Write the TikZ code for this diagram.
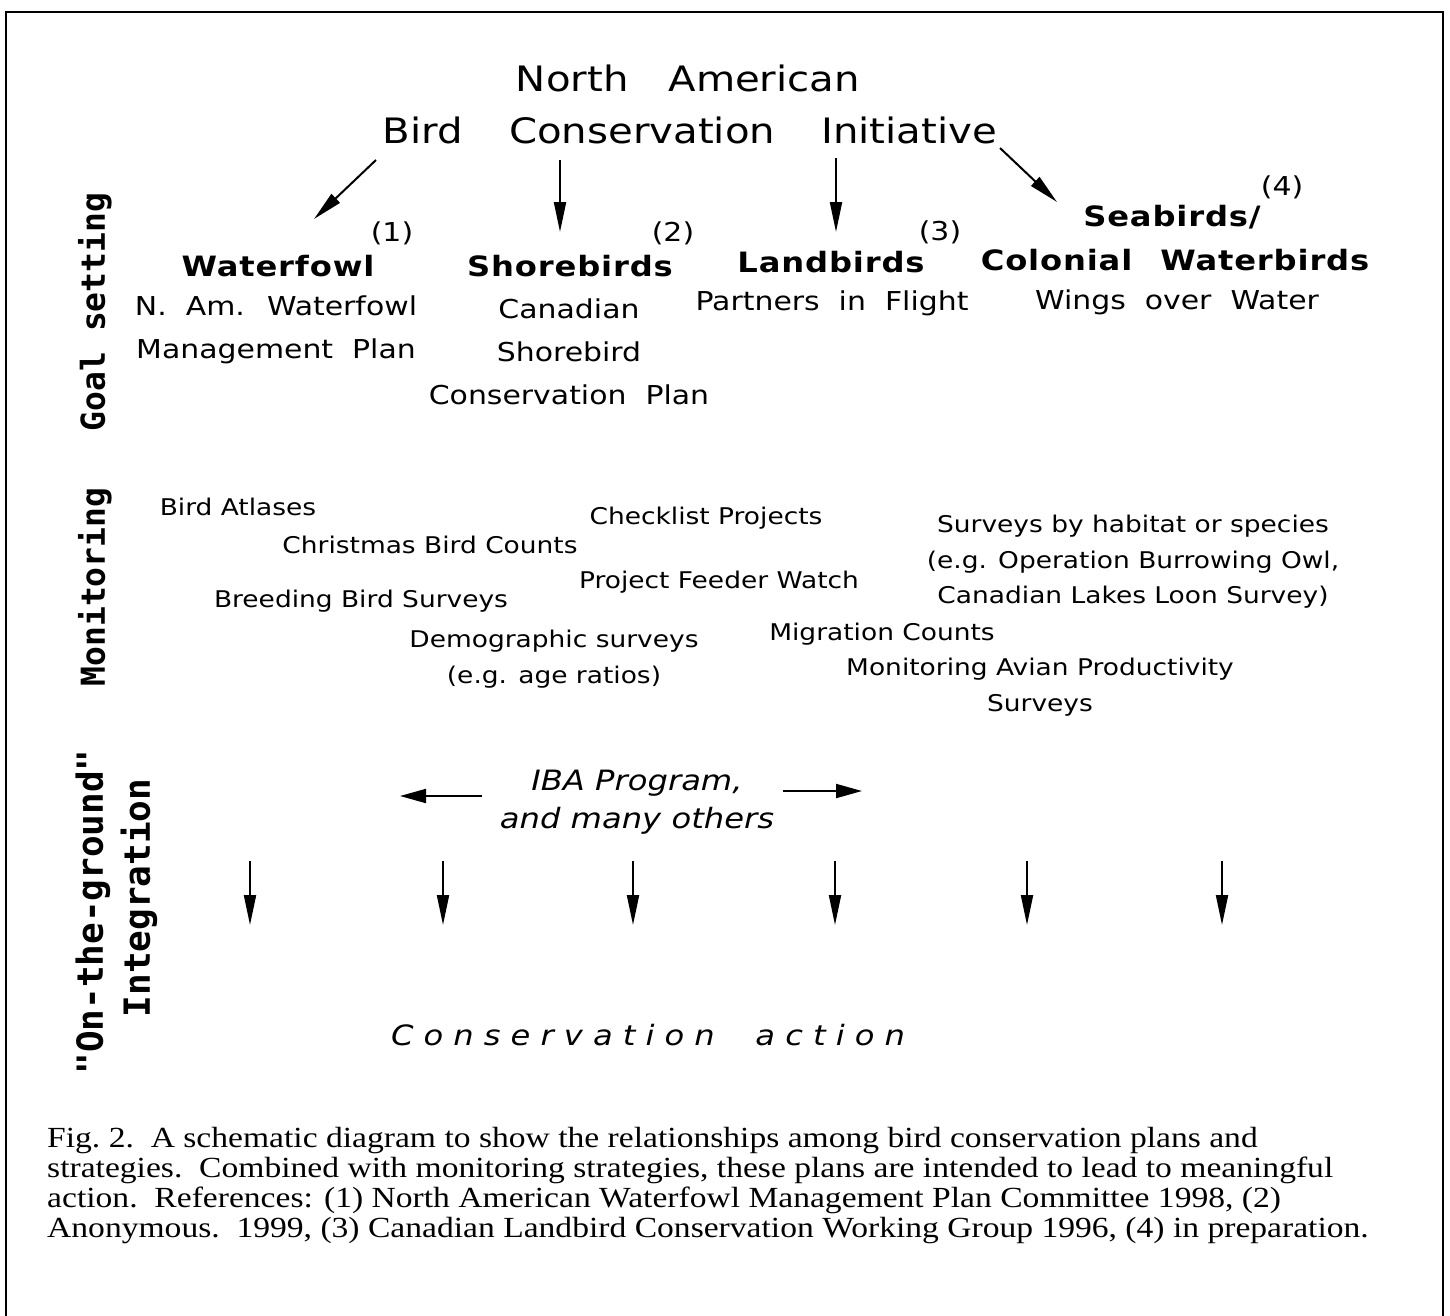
\documentclass[tikz,border=0pt]{standalone}
\usepackage{fontspec}
\setmainfont{DejaVu Sans}[FakeStretch=1.15]
\newfontfamily\titlefont{DejaVu Sans}[FakeStretch=1.15]
\newfontfamily\groupfont{DejaVu Sans}[FakeStretch=1.15, LetterSpace=3]
\newfontfamily\planfont{DejaVu Sans}[FakeStretch=1.15, WordSpace=2]
\newfontfamily\actionfont{DejaVu Sans}[FakeStretch=1.15, LetterSpace=36, WordSpace=2]
\newfontfamily\tierfont{DejaVu Sans Mono}
\newfontfamily\capfont{Liberation Serif}[FakeStretch=1.15]
\usetikzlibrary{arrows.meta}

\tikzset{
  arr/.style={-{Triangle[length=30pt,width=12pt]}, line width=2pt},
  sidearr/.style={-{Triangle[length=26pt,width=14pt]}, line width=2pt},
  title/.style={font=\titlefont\fontsize{35}{42}\selectfont},
  group/.style={font=\groupfont\bfseries\fontsize{28}{33}\selectfont},
  refno/.style={font=\fontsize{26}{31}\selectfont},
  plan/.style={font=\planfont\fontsize{26}{43}\selectfont, align=center},
  survey/.style={font=\fontsize{23}{35.5}\selectfont, align=center},
  iba/.style={font=\itshape\fontsize{28}{38}\selectfont, align=center},
  tier/.style={rotate=90, font=\tierfont\bfseries\fontsize{33}{40}\selectfont},
  bigtier/.style={tier, font=\tierfont\bfseries\fontsize{36}{40}\selectfont},
}

\begin{document}
\begin{tikzpicture}[x=1pt,y=-1pt]
\useasboundingbox (0,0) rectangle (1450,1315);

% frame
\draw[line width=2.5pt] (6,1330) -- (6,12) -- (1443,12) -- (1443,1330);

% tiers
\node[tier] (goal) at (95,312) {Goal setting};
\node[tier] (moni) at (95,587) {Monitoring};
\node[bigtier] (otg) at (93,912) {"On-the-ground"};
\node[bigtier] (integ) at (139,898) {Integration};

% initiative
\node[title] (nac) at (688,78) {North\hspace{40pt}American};
\node[title] (bci) at (690,130) {Bird\hspace{46pt}Conservation\hspace{46pt}Initiative};

% bird groups
\node[group] (wf) at (278,266) {Waterfowl};
\node[group] (sb) at (570,266) {Shorebirds};
\node[group] (lb) at (831,262) {Landbirds};
\node[group] (sea) at (1172,217) {Seabirds/};
\node[group] (cw) at (1175,260) {Colonial\hspace{28pt}Waterbirds};
\node[refno] (wf-no) at (392,233) {(1)};
\node[refno] (sb-no) at (673,233) {(2)};
\node[refno] (lb-no) at (940,232) {(3)};
\node[refno] (sea-no) at (1282,187) {(4)};

\coordinate (wf-a) at (376,160);
\coordinate (wf-b) at (314,219);
\coordinate (sb-a) at (560,160);
\coordinate (sb-b) at (560,232);
\coordinate (lb-a) at (836,158);
\coordinate (lb-b) at (836,232);
\coordinate (sea-a) at (1000,148);
\coordinate (sea-b) at (1057,202);
\draw[arr] (wf-a) -- (wf-b);
\draw[arr] (sb-a) -- (sb-b);
\draw[arr] (lb-a) -- (lb-b);
\draw[arr] (sea-a) -- (sea-b);

% plans
\node[plan] (wf-plan) at (276,330) {N. Am. Waterfowl\\Management Plan};
\node[plan] (sb-plan) at (569,352) {Canadian\\Shorebird\\Conservation Plan};
\node[plan] (lb-plan) at (832,303) {Partners in Flight};
\node[plan] (cw-plan) at (1177,302) {Wings over Water};

% monitoring
\node[survey] (atlas) at (238,507) {Bird Atlases};
\node[survey] (cbc) at (430,545) {Christmas Bird Counts};
\node[survey] (check) at (706,518) {Checklist Projects};
\node[survey] (pfw) at (719,582) {Project Feeder Watch};
\node[survey] (bbs) at (361,601) {Breeding Bird Surveys};
\node[survey] (demo) at (554,659) {Demographic surveys\\(e.g. age ratios)};
\node[survey] (habitat) at (1133,562) {Surveys by habitat or species\\(e.g. Operation Burrowing Owl,\\Canadian Lakes Loon Survey)};
\node[survey] (migr) at (882,634) {Migration Counts};
\node[survey] (maps) at (1040,687) {Monitoring Avian Productivity\\Surveys};

% integration
\node[iba] (ibaprog) at (637,802) {IBA Program,\\and many others};
\coordinate (iba-la) at (482,796);
\coordinate (iba-lb) at (400,796);
\coordinate (iba-ra) at (783,791);
\coordinate (iba-rb) at (862,791);
\draw[sidearr] (iba-la) -- (iba-lb);
\draw[sidearr] (iba-ra) -- (iba-rb);

\foreach \x [count=\i] in {250,443,633,835,1027,1222}{
  \coordinate (down\i-a) at (\x,861);
  \coordinate (down\i-b) at (\x,925);
  \draw[arr] (down\i-a) -- (down\i-b);
}

\node[font=\actionfont\itshape\fontsize{28}{33}\selectfont] (action) at (648,1035) {Conservation action};

% caption
\node[anchor=north west, inner sep=0pt, align=left, font=\capfont\fontsize{29.2}{30}\selectfont] (caption) at (47,1127)
  {Fig.~2.\ \ A schematic diagram to show the relationships among bird conservation plans and\\
   strategies.\ \ Combined with monitoring strategies, these plans are intended to lead to meaningful\\
   action.\ \ References: (1) North American Waterfowl Management Plan Committee 1998, (2)\\
   Anonymous.\ \ 1999, (3) Canadian Landbird Conservation Working Group 1996, (4) in preparation.};

\end{tikzpicture}
\end{document}
